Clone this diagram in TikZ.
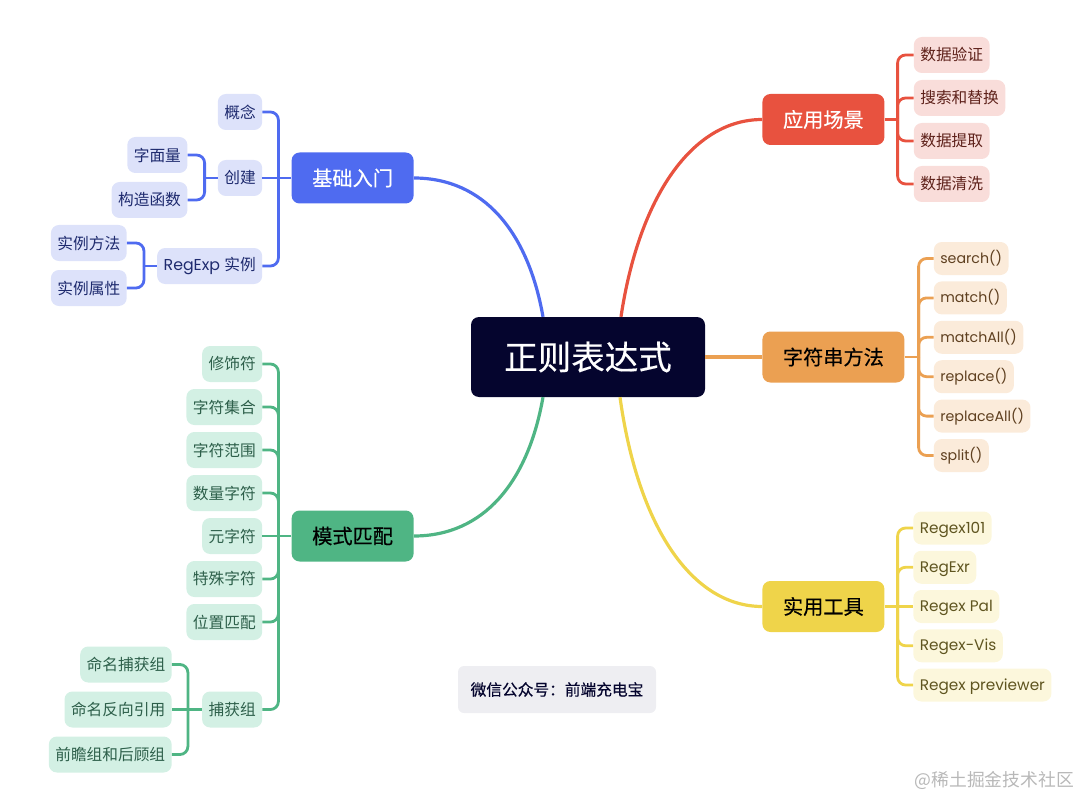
\documentclass[tikz,border=0pt]{standalone}
\usepackage{fontspec}
\setmainfont{Poppins}
\newfontfamily\cjk{Noto Sans CJK SC}
\newfontfamily\cjkmed[FakeBold=0.4]{Noto Sans CJK SC}
\usetikzlibrary{positioning}

\definecolor{bluemain}{HTML}{4F6BF0}
\definecolor{blueleaf}{HTML}{DDE2FA}
\definecolor{bluetext}{HTML}{1E2A6E}
\definecolor{redmain}{HTML}{E8523F}
\definecolor{redleaf}{HTML}{F9DDDA}
\definecolor{redtext}{HTML}{5E211A}
\definecolor{orangemain}{HTML}{EBA052}
\definecolor{orangeleaf}{HTML}{FBEBDA}
\definecolor{orangetext}{HTML}{5F4020}
\definecolor{greenmain}{HTML}{4FB584}
\definecolor{greenleaf}{HTML}{D3F0E4}
\definecolor{greentext}{HTML}{2D5F4A}
\definecolor{yellowmain}{HTML}{EFD44A}
\definecolor{yellowleaf}{HTML}{FCF7DC}
\definecolor{yellowtext}{HTML}{5F5520}
\definecolor{rootfill}{HTML}{05052E}
\definecolor{notefill}{HTML}{EEEEF2}

\begin{document}
\begin{tikzpicture}[
    x=1pt, y=-1pt,
    root/.style = {rectangle, rounded corners=8pt, fill=rootfill, text=white, minimum width=234pt, minimum height=80pt, font=\fontsize{33.5}{36}\selectfont\cjkmed},
    branch/.style = {rectangle, rounded corners=8pt, minimum width=122pt, minimum height=51pt, inner xsep=20.5pt, font=\fontsize{20.2}{24}\selectfont\cjkmed},
    leaf/.style = {rectangle, rounded corners=8pt, minimum height=36pt, inner xsep=6.5pt, inner ysep=0pt, font=\fontsize{15.7}{18}\selectfont\cjk},
    blueleafbox/.style = {leaf, fill=blueleaf, text=bluetext},
    redleafbox/.style = {leaf, fill=redleaf, text=redtext},
    greenleafbox/.style = {leaf, fill=greenleaf, text=greentext},
    orangeleafbox/.style = {leaf, fill=orangeleaf, text=orangetext, minimum height=33pt, text height=13pt, text depth=3pt, font=\fontsize{14.2}{18}\selectfont},
    yellowleafbox/.style = {leaf, fill=yellowleaf, text=yellowtext, minimum height=33pt, text height=13pt, text depth=3pt, font=\fontsize{15.3}{18}\selectfont},
    link/.style = {line width=2.8pt, rounded corners=8pt},
    curve/.style = {line width=3.2pt}
]
    \useasboundingbox (0,0) rectangle (1080,797);

    % Root and main branches
    \node [root] (root) at (588,357) {正则表达式};
    \node [branch, fill=bluemain, text=white, left=57pt of root, yshift=179pt] (basic) {基础入门};
    \node [branch, fill=redmain, text=white, right=57pt of root, yshift=237.5pt] (usage) {应用场景};
    \node [branch, fill=orangemain, text=black, right=57pt of root] (strings) {字符串方法};
    \node [branch, fill=greenmain, text=black, left=57pt of root, yshift=-179pt] (pattern) {模式匹配};
    \node [branch, fill=yellowmain, text=black, right=57pt of root, yshift=-249.5pt] (tools) {实用工具};

    % Basics
    \node [blueleafbox, left=29pt of basic, yshift=66pt] (concept) {概念};
    \node [blueleafbox, left=29pt of basic] (create) {创建};
    \node [blueleafbox, left=29pt of basic, yshift=-88pt] (regexp) {\fontsize{15.8}{18}\selectfont\rmfamily RegExp {\cjk\fontsize{15.7}{18}\selectfont 实例}};
    \node [blueleafbox, left=30pt of create, yshift=23pt] (literal) {字面量};
    \node [blueleafbox, left=30pt of create, yshift=-22pt] (ctor) {构造函数};
    \node [blueleafbox, left=30pt of regexp, yshift=23pt] (imethod) {实例方法};
    \node [blueleafbox, left=30pt of regexp, yshift=-22pt] (iattr) {实例属性};

    % Usage
    \node [redleafbox, right=29pt of usage, yshift=64.5pt] (verify) {数据验证};
    \node [redleafbox, below right=6.6pt and 0pt of verify.south west] (search) {搜索和替换};
    \node [redleafbox, below right=6.6pt and 0pt of search.south west] (extract) {数据提取};
    \node [redleafbox, below right=6.6pt and 0pt of extract.south west] (clean) {数据清洗};

    % String methods
    \node [orangeleafbox, right=29pt of strings, yshift=98.5pt] (msearch) {search()};
    \node [orangeleafbox, below right=6pt and 0pt of msearch.south west] (mmatch) {match()};
    \node [orangeleafbox, below right=6pt and 0pt of mmatch.south west] (mall) {matchAll()};
    \node [orangeleafbox, below right=6pt and 0pt of mall.south west] (mreplace) {replace()};
    \node [orangeleafbox, below right=6pt and 0pt of mreplace.south west] (mreplaceall) {replaceAll()};
    \node [orangeleafbox, below right=6pt and 0pt of mreplaceall.south west] (msplit) {split()};

    % Tools
    \node [yellowleafbox, right=28.5pt of tools, yshift=78.5pt] (regex101) {Regex101};
    \node [yellowleafbox, below right=5.85pt and 0pt of regex101.south west] (regexr) {RegExr};
    \node [yellowleafbox, below right=5.85pt and 0pt of regexr.south west] (regexpal) {Regex Pal};
    \node [yellowleafbox, below right=5.85pt and 0pt of regexpal.south west] (regexvis) {Regex-Vis};
    \node [yellowleafbox, below right=5.85pt and 0pt of regexvis.south west] (previewer) {Regex previewer};

    % Pattern matching
    \node [greenleafbox, left=29pt of pattern, yshift=172pt] (modifier) {修饰符};
    \node [greenleafbox, below left=6.6pt and 0pt of modifier.south east] (charset) {字符集合};
    \node [greenleafbox, below left=6.6pt and 0pt of charset.south east] (charrange) {字符范围};
    \node [greenleafbox, below left=6.6pt and 0pt of charrange.south east] (quantity) {数量字符};
    \node [greenleafbox, below left=6.6pt and 0pt of quantity.south east] (meta) {元字符};
    \node [greenleafbox, below left=6.6pt and 0pt of meta.south east] (special) {特殊字符};
    \node [greenleafbox, below left=6.6pt and 0pt of special.south east] (position) {位置匹配};
    \node [greenleafbox, left=29pt of pattern, yshift=-173.5pt] (capture) {捕获组};
    \node [greenleafbox, left=30pt of capture, yshift=45pt] (named) {命名捕获组};
    \node [greenleafbox, left=30pt of capture] (backref) {命名反向引用};
    \node [greenleafbox, left=30pt of capture, yshift=-45pt] (look) {前瞻组和后顾组};

    % Note and watermark
    \node [rectangle, rounded corners=6pt, fill=notefill, text=rootfill, minimum width=198pt, minimum height=47pt, font=\fontsize{15.7}{18}\selectfont\cjkmed] (note) at (557,689.5) {微信公众号：前端充电宝};
    \node [anchor=east, text=black!28, inner sep=0pt, font=\fontsize{17.8}{20}\selectfont\cjk] (mark) at (1074,780) {@稀土掘金技术社区};

    % Bus points
    \coordinate (basicbus) at ([xshift=-13pt]basic.west);
    \coordinate (createbus) at ([xshift=-13pt]create.west);
    \coordinate (regexpbus) at ([xshift=-13pt]regexp.west);
    \coordinate (usagebus) at ([xshift=13pt]usage.east);
    \coordinate (stringsbus) at ([xshift=14pt]strings.east);
    \coordinate (toolsbus) at ([xshift=13pt]tools.east);
    \coordinate (patternbus) at ([xshift=-13pt]pattern.west);
    \coordinate (capturebus) at ([xshift=-14pt]capture.west);

    % Root edges
    \draw [curve, bluemain] ([xshift=-45pt]root.north) .. controls +(-15,-85) and +(70,0) .. (basic.east);
    \draw [curve, redmain] ([xshift=33pt]root.north) .. controls +(18,-120) and +(-70,0) .. (usage.west);
    \draw [curve, orangemain] (root.east) -- (strings.west);
    \draw [curve, greenmain] ([xshift=-45pt]root.south) .. controls +(-15,85) and +(70,0) .. (pattern.east);
    \draw [curve, yellowmain] ([xshift=32pt]root.south) .. controls +(18,130) and +(-70,0) .. (tools.west);

    % Basics edges
    \draw [link, bluemain] (basic.west) -- (create.east);
    \draw [link, bluemain] (basicbus) |- (concept.east);
    \draw [link, bluemain] (basicbus) |- (regexp.east);
    \draw [link, bluemain] (create.west) -- (createbus);
    \draw [link, bluemain] (createbus) |- (literal.east);
    \draw [link, bluemain] (createbus) |- (ctor.east);
    \draw [link, bluemain] (regexp.west) -- (regexpbus);
    \draw [link, bluemain] (regexpbus) |- (imethod.east);
    \draw [link, bluemain] (regexpbus) |- (iattr.east);

    % Usage edges
    \draw [link, redmain] (usage.east) -- (usagebus);
    \draw [link, redmain] (usagebus) |- (verify.west);
    \draw [link, redmain] (usagebus) |- (search.west);
    \draw [link, redmain] (usagebus) |- (extract.west);
    \draw [link, redmain] (usagebus) |- (clean.west);

    % String edges
    \draw [link, orangemain] (strings.east) -- (stringsbus);
    \draw [link, orangemain] (stringsbus) |- (msearch.west);
    \draw [link, orangemain] (stringsbus) |- (mmatch.west);
    \draw [link, orangemain] (stringsbus) |- (mall.west);
    \draw [link, orangemain] (stringsbus) |- (mreplace.west);
    \draw [link, orangemain] (stringsbus) |- (mreplaceall.west);
    \draw [link, orangemain] (stringsbus) |- (msplit.west);

    % Tool edges
    \draw [link, yellowmain] (tools.east) -- (regexpal.west);
    \draw [link, yellowmain] (toolsbus) |- (regex101.west);
    \draw [link, yellowmain] (toolsbus) |- (regexr.west);
    \draw [link, yellowmain] (toolsbus) |- (regexvis.west);
    \draw [link, yellowmain] (toolsbus) |- (previewer.west);

    % Pattern edges
    \draw [link, greenmain] (pattern.west) -- (meta.east);
    \draw [link, greenmain] (patternbus) |- (modifier.east);
    \draw [link, greenmain] (patternbus) |- (charset.east);
    \draw [link, greenmain] (patternbus) |- (charrange.east);
    \draw [link, greenmain] (patternbus) |- (quantity.east);
    \draw [link, greenmain] (patternbus) |- (special.east);
    \draw [link, greenmain] (patternbus) |- (position.east);
    \draw [link, greenmain] (patternbus) |- (capture.east);
    \draw [link, greenmain] (capture.west) -- (backref.east);
    \draw [link, greenmain] (capturebus) |- (named.east);
    \draw [link, greenmain] (capturebus) |- (look.east);
\end{tikzpicture}
\end{document}
